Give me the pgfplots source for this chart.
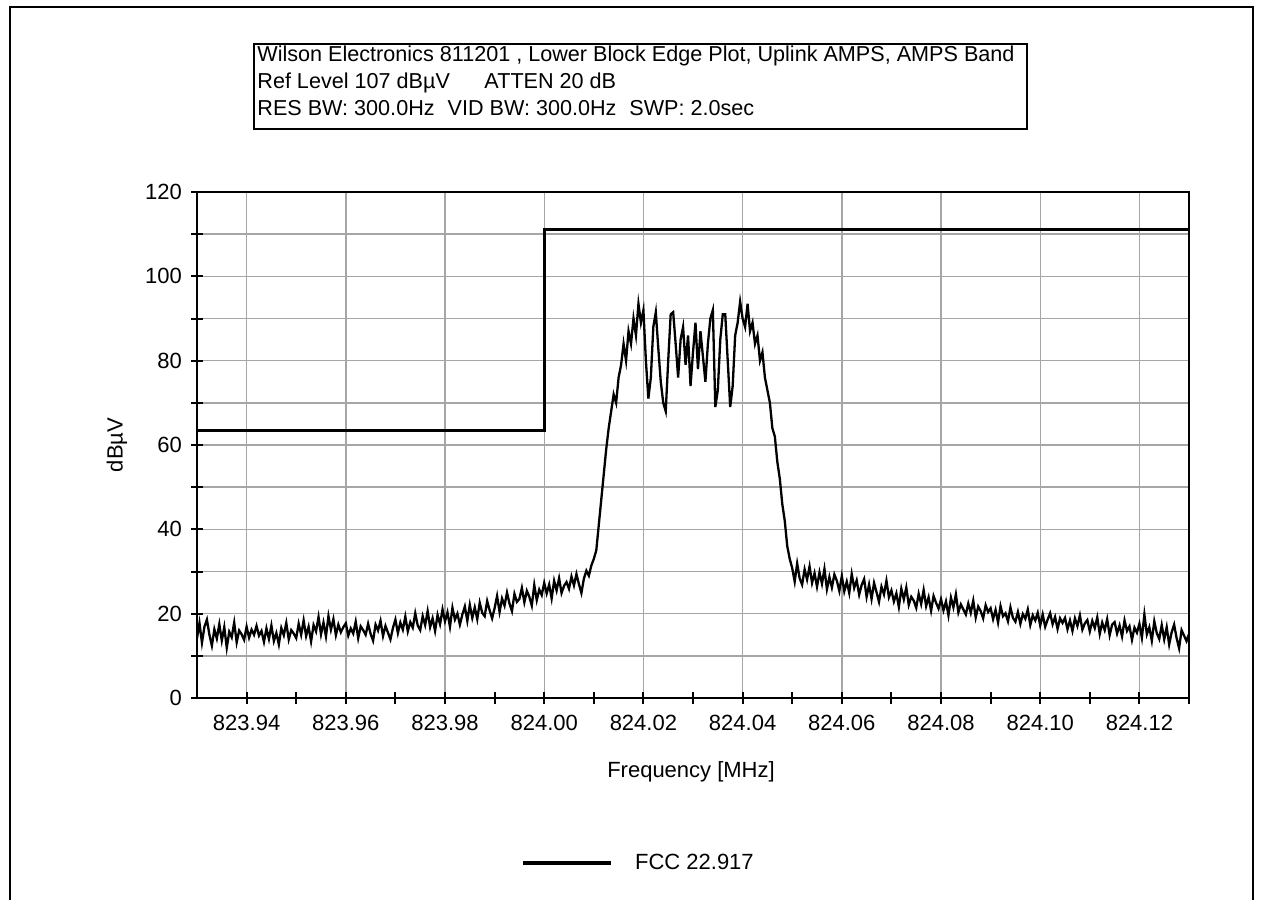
\documentclass[border=0pt]{standalone}
\usepackage{fontspec}
\setmainfont{Liberation Sans}
\usepackage{pgfplots}
\pgfplotsset{compat=1.18}

% Frequency offsets in kHz from 824.000 MHz, level in dBuV
\pgfplotstableread{
f lvl
-70 14.2
-69.5 17.8
-69 13.1
-68.5 16.9
-68 18.6
-67.5 15.0
-67 12.4
-66.5 16.3
-66 14.1
-65.5 17.5
-65 13.6
-64.5 16.8
-64 11.9
-63.5 15.7
-63 14.4
-62.5 17.9
-62 13.2
-61.5 16.0
-61 15.1
-60.5 13.8
-60 16.9
-59.5 14.3
-59 16.2
-58.5 15.0
-58 17.1
-57.5 14.8
-57 15.9
-56.5 13.3
-56 16.5
-55.5 14.0
-55 17.2
-54.5 13.5
-54 15.4
-53.5 12.7
-53 16.6
-52.5 14.9
-52 17.8
-51.5 13.9
-51 16.1
-50.5 15.3
-50 14.2
-49.5 17.6
-49 15.0
-48.5 18.4
-48 14.7
-47.5 16.9
-47 13.4
-46.5 17.3
-46 15.8
-45.5 19.2
-45 15.1
-44.5 17.9
-44 14.6
-43.5 19.4
-43 16.2
-42.5 18.7
-42 14.9
-41.5 17.4
-41 15.6
-40.5 16.8
-40 17.7
-39.5 14.8
-39 16.5
-38.5 15.3
-38 18.1
-37.5 14.2
-37 17.0
-36.5 16.1
-36 15.0
-35.5 17.6
-35 15.2
-34.5 13.6
-34 17.4
-33.5 16.0
-33 18.3
-32.5 14.7
-32 17.1
-31.5 15.5
-31 13.9
-30.5 16.6
-30 18.6
-29.5 15.4
-29 17.9
-28.5 16.2
-28 19.3
-27.5 15.8
-27 18.0
-26.5 16.7
-26 20.1
-25.5 17.2
-25 16.1
-24.5 19.4
-24 17.3
-23.5 20.6
-23 16.8
-22.5 18.9
-22 15.9
-21.5 19.7
-21 17.5
-20.5 21.0
-20 18.2
-19.5 20.3
-19 16.9
-18.5 21.4
-18 18.6
-17.5 20.0
-17 17.4
-16.5 19.8
-16 21.7
-15.5 18.3
-15 22.1
-14.5 19.0
-14 21.5
-13.5 18.7
-13 22.6
-12.5 20.2
-12 19.4
-11.5 23.0
-11 20.8
-10.5 18.9
-10 21.3
-9.5 24.2
-9 20.4
-8.5 23.6
-8 21.9
-7.5 25.0
-7 22.4
-6.5 20.6
-6 24.7
-5.5 22.8
-5 23.5
-4.5 26.1
-4 22.7
-3.5 25.4
-3 24.0
-2.5 21.9
-2 26.8
-1.5 23.2
-1 25.7
-0.5 24.4
0 27.3
0.5 24.8
1 26.9
1.5 23.6
2 27.8
2.5 25.5
3 28.4
3.5 24.9
4 26.6
4.5 27.5
5 25.9
5.5 28.8
6 26.7
6.5 29.4
7 27.0
7.5 24.9
8 28.3
8.5 30.2
9 29.0
9.5 31.4
10 33.0
10.5 35.0
11 41.0
11.5 47.0
12 53.0
12.5 59.0
13 64.0
13.5 68.0
14 72.0
14.5 70.0
15 76.0
15.5 79.0
16 84.0
16.5 80.0
17 87.0
17.5 84.0
18 90.0
18.5 86.0
19 93.5
19.5 89.0
20 92.0
20.5 80.0
21 71.0
21.5 76.0
22 88.0
22.5 91.5
23 83.0
23.5 75.0
24 70.0
24.5 68.0
25 80.0
25.5 91.0
26 91.5
26.5 84.0
27 76.0
27.5 85.0
28 88.0
28.5 79.0
29 86.0
29.5 74.0
30 82.0
30.5 89.0
31 78.0
31.5 87.0
32 81.0
32.5 75.0
33 84.0
33.5 90.0
34 92.0
34.5 69.0
35 73.0
35.5 85.0
36 91.0
36.5 91.0
37 80.0
37.5 69.0
38 74.0
38.5 86.0
39 89.0
39.5 94.0
40 90.0
40.5 88.0
41 93.5
41.5 87.0
42 89.0
42.5 84.0
43 86.0
43.5 80.0
44 82.0
44.5 76.0
45 73.0
45.5 70.0
46 64.0
46.5 62.0
47 56.0
47.5 52.0
48 46.0
48.5 42.0
49 36.0
49.5 33.0
50 30.8
50.5 27.6
51 31.9
51.5 28.4
52 26.9
52.5 30.5
53 28.1
53.5 31.2
54 27.3
54.5 29.6
55 26.4
55.5 29.8
56 27.1
56.5 30.6
57 25.8
57.5 28.7
58 26.2
58.5 29.3
59 27.8
59.5 25.4
60 28.9
60.5 25.3
61 27.6
61.5 24.9
62 29.4
62.5 26.1
63 27.9
63.5 24.5
64 26.8
64.5 28.2
65 24.0
65.5 26.9
66 23.5
66.5 27.3
67 25.1
67.5 22.8
68 26.4
68.5 24.6
69 27.8
69.5 23.9
70 25.5
70.5 22.9
71 24.8
71.5 21.6
72 25.9
72.5 23.4
73 26.2
73.5 22.1
74 24.0
74.5 23.1
75 21.4
75.5 24.7
76 22.3
76.5 25.6
77 21.8
77.5 23.9
78 20.7
78.5 24.2
79 22.6
79.5 21.2
80 23.4
80.5 20.8
81 22.9
81.5 19.6
82 23.8
82.5 21.5
83 24.6
83.5 20.3
84 22.2
84.5 21.0
85 19.8
85.5 22.4
86 20.2
86.5 23.1
87 19.1
87.5 21.7
88 20.6
88.5 18.9
89 22.0
89.5 20.4
90 21.3
90.5 18.7
91 20.9
91.5 17.9
92 21.8
92.5 19.4
93 20.1
93.5 18.2
94 21.5
94.5 19.0
95 18.1
95.5 20.4
96 17.6
96.5 19.9
97 18.8
97.5 21.0
98 17.3
98.5 19.6
99 18.4
99.5 20.2
100 17.2
100.5 19.8
101 16.9
101.5 18.6
102 20.1
102.5 17.5
103 19.2
103.5 16.4
104 18.9
104.5 17.8
105 19.0
105.5 16.3
106 18.4
106.5 15.9
107 18.9
107.5 17.1
108 19.6
108.5 16.2
109 17.7
109.5 18.5
110 15.8
110.5 18.3
111 16.6
111.5 19.1
112 15.2
112.5 17.9
113 16.1
113.5 18.7
114 14.9
114.5 17.4
115 18.0
115.5 15.3
116 17.2
116.5 14.6
117 18.4
117.5 15.9
118 17.0
118.5 13.8
119 16.7
119.5 15.5
120 17.6
120.5 14.3
121 19.8
121.5 15.1
122 16.8
122.5 13.6
123 18.2
123.5 15.4
124 14.0
124.5 17.3
125 13.9
125.5 16.8
126 12.7
126.5 15.6
127 17.4
127.5 14.2
128 11.8
128.5 16.1
129 14.8
129.5 13.5
130 15.2
}\spectrum

\newcommand{\lblfont}{\fontsize{11}{13}\selectfont}
\newcommand{\hdrfont}{\fontsize{10.8}{13}\selectfont}

\begin{document}
\begin{tikzpicture}
\useasboundingbox (0,0) rectangle (631pt,450pt);
% outer frame
\draw[line width=1pt] (5pt,0pt) -- (5pt,446.5pt) -- (626.5pt,446.5pt) -- (626.5pt,0pt);
% header box
\draw[line width=1pt] (127pt,385.5pt) rectangle (513.5pt,428pt);
\node[anchor=base west,inner sep=0pt,font=\hdrfont] at (128.5pt,419pt)
  {Wilson Electronics 811201 , Lower Block Edge Plot, Uplink AMPS, AMPS Band};
\node[anchor=base west,inner sep=0pt,font=\hdrfont] at (128.5pt,405.5pt)
  {Ref Level 107 dBµV\hspace{1.6em}ATTEN 20 dB};
\node[anchor=base west,inner sep=0pt,font=\hdrfont] at (128.5pt,392pt)
  {RES BW: 300.0Hz\hspace{0.6em}VID BW: 300.0Hz\hspace{0.6em}SWP: 2.0sec};

\begin{axis}[
  at={(98.5pt,101pt)}, anchor=south west,
  scale only axis, width=496pt, height=253pt,
  xmin=-70, xmax=130, ymin=0, ymax=120,
  xtick={-60,-40,...,120},
  xticklabels={823.94,823.96,823.98,824.00,824.02,824.04,824.06,824.08,824.10,824.12},
  minor xtick={-50,-30,...,130},
  ytick={0,20,...,120},
  minor ytick={10,30,...,110},
  xtick pos=left, ytick pos=left,
  tick align=center,
  major tick length=6pt, minor tick length=6pt,
  every tick/.style={black,line width=1pt},
  axis line style={line width=1.3pt},
  xmajorgrids, ymajorgrids, yminorgrids,
  grid style={gray!70,line width=0.7pt},
  minor grid style={gray!70,line width=0.7pt},
  /pgf/number format/assume math mode=true,
  ticklabel style={font=\lblfont},
  xticklabel style={yshift=-2pt},
  yticklabel style={xshift=-1pt},
  xlabel={Frequency [MHz]},
  ylabel={dBµV},
  label style={font=\lblfont},
  xlabel style={at={(axis description cs:0.498,-0.146)},anchor=center},
  ylabel style={at={(axis description cs:-0.0806,0.5)},anchor=center},
  legend style={at={(axis description cs:0.446,-0.326)},anchor=center,
    draw=none,fill=none,font=\lblfont,column sep=9pt},
  legend image code/.code={\draw[line width=2pt,black] (0pt,0pt) -- (44pt,0pt);},
]
\addplot[black,line width=1.15pt,forget plot] table[x=f,y=lvl] {\spectrum};
\addplot[black,line width=1.5pt] coordinates {(-70,63.5) (0,63.5) (0,111) (130,111)};
\addlegendentry{FCC 22.917}
\end{axis}
\end{tikzpicture}
\end{document}
